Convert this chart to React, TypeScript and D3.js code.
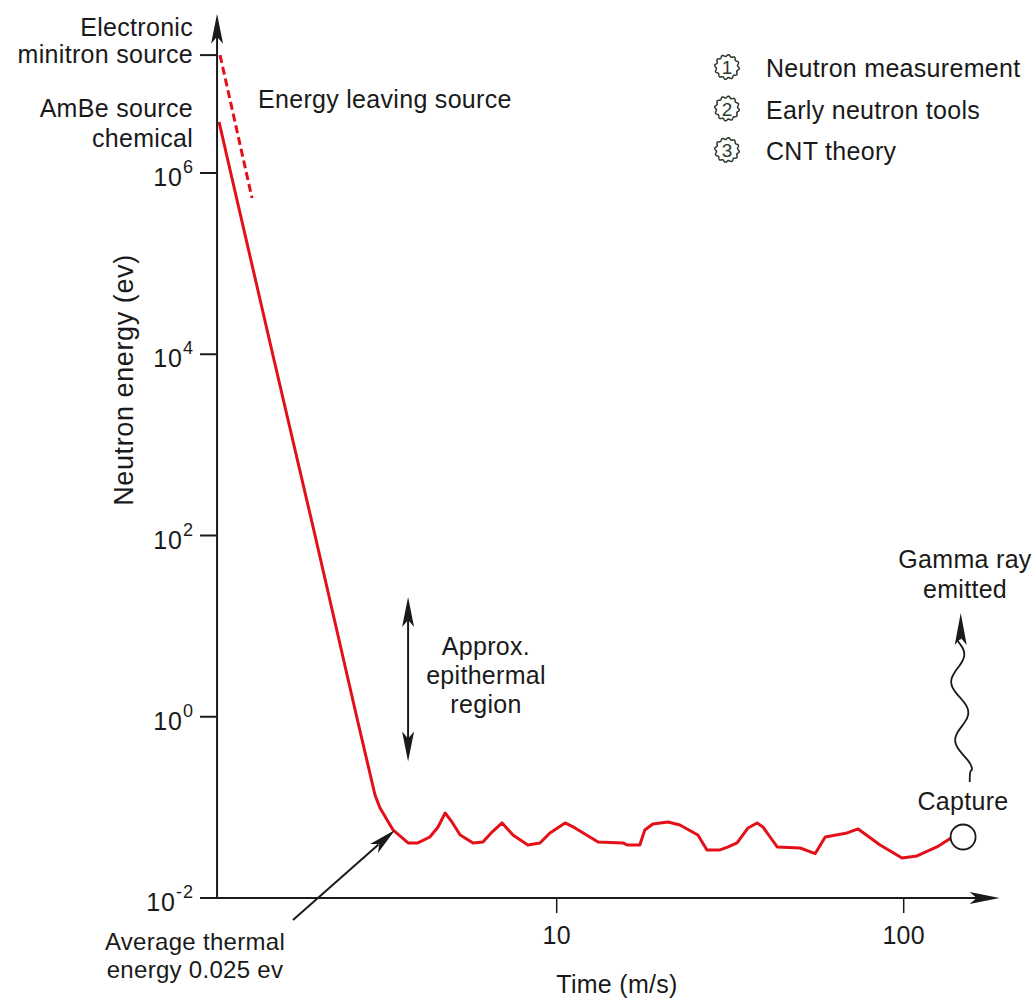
import * as d3 from 'd3';
import React, { useEffect, useRef } from 'react';

// slowing down from the AmBe source: time (m/s) vs neutron energy (ev)
const slowTime = [1.064, 1.15, 1.519, 2.012, 2.652, 2.995, 3.096, 3.38, 3.73];
const slowEnergy = [3.66e6, 1.0e6, 1.0e4, 100, 1, 0.137, 0.0985, 0.056, 0.0405];

// thermal random walk until capture
const thermalTime = [
  3.98, 4.31, 4.55, 4.77, 4.99, 5.27, 5.74, 6.13, 6.51, 6.96, 7.48, 8.26, 8.95, 9.56,
  10.57, 11.29, 13.16, 15.53, 15.96, 17.36, 17.94, 18.93, 20.92, 22.65, 25.52, 27.1,
  29.56, 31.2, 33.1, 35.6, 37.8, 39.3, 41.2, 43.2, 50.3, 55.6, 59.4, 68.7, 73.9, 85.5,
  98.9, 109.2, 124.7, 136.9,
];
const thermalEnergy = [
  0.0405, 0.0471, 0.0608, 0.0867, 0.0691, 0.0495, 0.0405, 0.0415, 0.0534, 0.0673, 0.0495,
  0.0385, 0.0405, 0.0522, 0.0673, 0.0593, 0.0415, 0.0405, 0.0385, 0.0385, 0.0562, 0.0656,
  0.0691, 0.064, 0.0495, 0.0339, 0.0339, 0.0366, 0.0405, 0.0593, 0.0673, 0.0608, 0.0471,
  0.0366, 0.0356, 0.0309, 0.0471, 0.0522, 0.0578, 0.0385, 0.0276, 0.0291, 0.0366, 0.0459,
];

// electronic minitron source, dashed
const minitronTime = [1.071, 1.324];
const minitronEnergy = [2.0e7, 5.3e5];

const yTickValues = [1e-2, 1, 1e2, 1e4, 1e6];
const yTickExp = ['-2', '0', '2', '4', '6'];
const xTickValues = [10, 100];
const xTickLabels = ['10', '100'];
const minitronLevel = 2e7;

const legendItems = ['Neutron measurement', 'Early neutron tools', 'CNT theory'];

const epithermalTime = 3.73;
const epithermalRange = [0.32, 21];
const captureTime = 148.3;
const captureEnergy = 0.0471;
const gammaTime = [155, 146];
const gammaEnergy = [0.19, 14];
const thermalArrowTime = [1.738, 3.42];
const thermalArrowEnergy = [0.0057, 0.0562];

const xAxisFrom = 1.05;
const xAxisTo = 189;
const yAxisTo = 5.7e7;

function App() {
  const svgRef = useRef<SVGSVGElement>(null);

  useEffect(() => {
    const svg = d3.select(svgRef.current);
    svg.selectAll('*').remove();

    const x = d3.scaleLog().domain([1, 100]).range([209.7, 903.7]);
    const y = d3.scaleLog().domain([1e-2, 1e6]).range([898, 173]);
    const ink = '#1a1a1a';
    const red = '#e3101a';
    const font = "'Liberation Sans', Arial, sans-serif";

    const x0 = x(xAxisFrom);
    const y0 = y(1e-2);

    const head = (px: number, py: number, angle: number, w = 6, len = 30) =>
      svg.append('path')
        .attr('d', `M0,0 L${w},${len} L0,${len - 7} L${-w},${len} Z`)
        .attr('transform', `translate(${px},${py}) rotate(${angle})`)
        .attr('fill', ink);

    const text = (str: string, px: number, py: number, anchor = 'start', size = 25) =>
      svg.append('text')
        .attr('x', px).attr('y', py)
        .attr('text-anchor', anchor)
        .attr('font-family', font)
        .attr('font-size', size)
        .attr('letter-spacing', 0.3)
        .attr('fill', ink)
        .text(str);

    // axes
    svg.append('line')
      .attr('x1', x0).attr('x2', x0)
      .attr('y1', y0).attr('y2', y(yAxisTo) + 22)
      .attr('stroke', ink).attr('stroke-width', 2);
    head(x0, y(yAxisTo), 0);

    svg.append('line')
      .attr('x1', x0).attr('x2', x(xAxisTo) - 22)
      .attr('y1', y0).attr('y2', y0)
      .attr('stroke', ink).attr('stroke-width', 2);
    head(x(xAxisTo), y0, 90);

    // y ticks with 10^n labels
    yTickValues.forEach((v, i) => {
      const py = y(v);
      svg.append('line')
        .attr('x1', x0 - 17).attr('x2', x0)
        .attr('y1', py).attr('y2', py)
        .attr('stroke', ink).attr('stroke-width', 2);
      const t = svg.append('text')
        .attr('x', 194).attr('y', py + 13)
        .attr('text-anchor', 'end')
        .attr('font-family', font)
        .attr('font-size', 25)
        .attr('letter-spacing', 1)
        .attr('fill', ink);
      t.append('tspan').text('10');
      t.append('tspan').attr('font-size', 18).attr('dy', -13).text(yTickExp[i]);
    });
    svg.append('line')
      .attr('x1', x0 - 17).attr('x2', x0)
      .attr('y1', y(minitronLevel)).attr('y2', y(minitronLevel))
      .attr('stroke', ink).attr('stroke-width', 2);

    // x ticks
    xTickValues.forEach((v, i) => {
      svg.append('line')
        .attr('x1', x(v)).attr('x2', x(v))
        .attr('y1', y0).attr('y2', y0 + 15)
        .attr('stroke', ink).attr('stroke-width', 1.5);
      text(xTickLabels[i], x(v), y0 + 46, 'middle');
    });

    text('Time (m/s)', 617, 993, 'middle');
    svg.append('text')
      .attr('transform', 'translate(133,380) rotate(-90)')
      .attr('text-anchor', 'middle')
      .attr('font-family', font)
      .attr('font-size', 27)
      .attr('letter-spacing', 0.6)
      .attr('fill', ink)
      .text('Neutron energy (ev)');

    // curves
    const line = d3.line<[number, number]>()
      .x(d => x(d[0]))
      .y(d => y(d[1]));

    const main: [number, number][] = slowTime.map((t, i) => [t, slowEnergy[i]] as [number, number])
      .concat(thermalTime.map((t, i) => [t, thermalEnergy[i]] as [number, number]));

    svg.append('path')
      .datum(main)
      .attr('fill', 'none')
      .attr('stroke', red)
      .attr('stroke-width', 3)
      .attr('stroke-linejoin', 'round')
      .attr('d', line);

    svg.append('path')
      .datum(minitronTime.map((t, i) => [t, minitronEnergy[i]] as [number, number]))
      .attr('fill', 'none')
      .attr('stroke', red)
      .attr('stroke-width', 3)
      .attr('stroke-dasharray', '8,4')
      .attr('d', line);

    // capture point
    svg.append('circle')
      .attr('cx', x(captureTime)).attr('cy', y(captureEnergy))
      .attr('r', 12.5)
      .attr('fill', '#fff')
      .attr('stroke', ink)
      .attr('stroke-width', 1.8);

    // gamma ray squiggle
    const gx0 = x(gammaTime[0]);
    const gx1 = x(gammaTime[1]);
    const gy0 = y(gammaEnergy[0]);
    const gy1 = y(gammaEnergy[1]);
    const squiggle: [number, number][] = [[gx0, gy0], [gx0, gy0 - 12]];
    const steps = 24;
    const top = gy1 + 26;
    for (let k = 0; k <= steps; k++) {
      const f = k / steps;
      const py = gy0 - 12 - f * (gy0 - 12 - top);
      const cx = gx0 + (gx1 - gx0) * f - 5;
      squiggle.push([cx + 8 * Math.sin(f * Math.PI * 4.5 + Math.PI / 2), py]);
    }
    squiggle.push([gx1, top]);
    svg.append('path')
      .datum(squiggle)
      .attr('fill', 'none')
      .attr('stroke', ink)
      .attr('stroke-width', 1.8)
      .attr('d', d3.line().curve(d3.curveBasis));
    head(gx1, gy1, 0, 6, 32);

    // epithermal double arrow
    const ex = x(epithermalTime);
    const eTop = y(epithermalRange[1]);
    const eBot = y(epithermalRange[0]);
    svg.append('line')
      .attr('x1', ex).attr('x2', ex)
      .attr('y1', eTop + 22).attr('y2', eBot - 22)
      .attr('stroke', ink).attr('stroke-width', 2);
    head(ex, eTop, 0);
    head(ex, eBot, 180);

    // thermal energy arrow
    const ax0 = x(thermalArrowTime[0]);
    const ay0 = y(thermalArrowEnergy[0]);
    const ax1 = x(thermalArrowTime[1]);
    const ay1 = y(thermalArrowEnergy[1]);
    const dx = ax1 - ax0;
    const dy = ay1 - ay0;
    const dist = Math.hypot(dx, dy);
    const ang = (Math.atan2(dx, -dy) * 180) / Math.PI;
    svg.append('line')
      .attr('x1', ax0).attr('y1', ay0)
      .attr('x2', ax1 - (dx / dist) * 22).attr('y2', ay1 - (dy / dist) * 22)
      .attr('stroke', ink).attr('stroke-width', 2);
    head(ax1, ay1, ang, 6, 28);

    // annotations
    text('Electronic', 193, 36, 'end');
    text('minitron source', 193, 63, 'end');
    text('AmBe source', 193, 117, 'end');
    text('chemical', 193, 147, 'end');
    text('Energy leaving source', 258, 108);

    text('Approx.', 486, 655, 'middle');
    text('epithermal', 486, 684, 'middle');
    text('region', 486, 713, 'middle');

    text('Average thermal', 195, 950, 'middle', 24);
    text('energy 0.025 ev', 195, 978, 'middle', 24);

    text('Gamma ray', 965, 568, 'middle');
    text('emitted', 965, 598, 'middle');
    text('Capture', 963, 810, 'middle');

    // legend with scalloped number badges
    const badge = d3.lineRadial<number>()
      .angle(a => a)
      .radius(a => 11.5 + 0.9 * Math.sin(a * 12))
      .curve(d3.curveLinearClosed);
    const angles = d3.range(0, Math.PI * 2, Math.PI / 60);

    legendItems.forEach((label, i) => {
      const cy = 67 + i * 41.5;
      svg.append('path')
        .datum(angles)
        .attr('transform', `translate(727,${cy})`)
        .attr('fill', 'none')
        .attr('stroke', '#2a3a2a')
        .attr('stroke-width', 1.5)
        .attr('d', badge);
      svg.append('text')
        .attr('x', 727).attr('y', cy + 7)
        .attr('text-anchor', 'middle')
        .attr('font-family', font)
        .attr('font-size', 19)
        .attr('fill', '#2a3a2a')
        .text(String(i + 1));
      text(label, 766, cy + 10);
    });
  }, []);

  return (
    <svg
      ref={svgRef}
      width={1034}
      height={1002}
      style={{ position: 'absolute', left: 0, top: 0, background: '#fff' }}
    />
  );
}

export default App;
